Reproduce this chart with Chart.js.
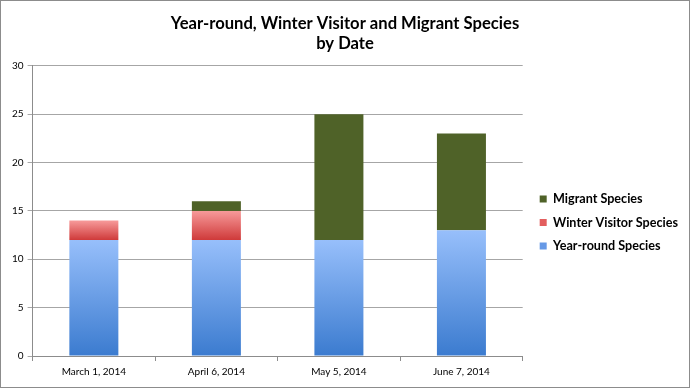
<!DOCTYPE html>
<html><head><meta charset="utf-8">
<script src="https://cdn.jsdelivr.net/npm/chart.js@4.4.1/dist/chart.umd.min.js"></script>
<style>html,body{margin:0;padding:0;background:#fff;}#wrap{width:690px;height:388px;position:relative;}</style>
</head><body><div id="wrap"><canvas id="c" width="690" height="388"></canvas></div>
<script>
const categories = ["March 1, 2014", "April 6, 2014", "May 5, 2014", "June 7, 2014"];
const yearRound = [12, 12, 12, 13];
const winterVisitor = [2, 3, 0, 0];
const migrant = [0, 1, 13, 10];
const yTicks = [0, 5, 10, 15, 20, 25, 30];
const seriesNames = ["Year-round Species", "Winter Visitor Species", "Migrant Species"];

const FONT = "Lato, 'Open Sans', sans-serif";
const series = [yearRound, winterVisitor, migrant];
const legendSwatch = ['#6699e6', '#e35e5e', '#4f6228'];

function gradFill(top, bottom) {
  return function(ctx) {
    const chart = ctx.chart;
    const ys = chart.scales && chart.scales.y;
    if (!ys || ctx.dataIndex === undefined) return top;
    let start = 0;
    for (let k = 0; k < ctx.datasetIndex; k++) start += series[k][ctx.dataIndex];
    const end = start + series[ctx.datasetIndex][ctx.dataIndex];
    const y0 = ys.getPixelForValue(end), y1 = ys.getPixelForValue(start);
    if (!isFinite(y0) || !isFinite(y1) || y0 === y1) return top;
    const g = chart.ctx.createLinearGradient(0, y0, 0, y1);
    g.addColorStop(0, top); g.addColorStop(1, bottom);
    return g;
  };
}

const borderPlugin = {
  id: 'outerBorder',
  afterLayout(chart) {
    if (chart.legend) { chart.legend.top += 54; chart.legend.left += 6; }
  },
  afterDraw(chart) {
    const c = chart.ctx;
    c.save(); c.strokeStyle = '#8c8c8c'; c.lineWidth = 1;
    c.strokeRect(0.5, 0.5, chart.width - 1, chart.height - 1);
    c.restore();
  }
};

new Chart(document.getElementById('c'), {
  type: 'bar',
  data: {
    labels: categories,
    datasets: [
      { label: seriesNames[0], data: yearRound, backgroundColor: gradFill('#97bffb', '#3b7bcf'), borderWidth: 0 },
      { label: seriesNames[1], data: winterVisitor, backgroundColor: gradFill('#f79a9a', '#cf3a3a'), borderWidth: 0 },
      { label: seriesNames[2], data: migrant, backgroundColor: '#4f6228', borderWidth: 0 }
    ]
  },
  options: {
    responsive: false,
    animation: false,
    devicePixelRatio: 1,
    layout: { padding: { left: 8, right: 8, top: 8, bottom: 5 } },
    datasets: { bar: { categoryPercentage: 1.0, barPercentage: 0.4 } },
    plugins: {
      title: {
        display: true,
        text: ["Year-round, Winter Visitor and Migrant Species", "by Date"],
        font: { family: FONT, size: 16.6, weight: 'bold' },
        color: '#000',
        padding: { top: 6, bottom: 12 },
        lineHeight: 1.38
      },
      legend: {
        position: 'right',
        reverse: true,
        labels: {
          boxWidth: 7, boxHeight: 7,
          font: { family: FONT, size: 12.6, weight: 'bold' },
          color: '#000', padding: 11,
          generateLabels(chart) {
            const items = Chart.defaults.plugins.legend.labels.generateLabels(chart);
            items.forEach(it => { it.fillStyle = legendSwatch[it.datasetIndex]; it.strokeStyle = legendSwatch[it.datasetIndex]; it.lineWidth = 0; });
            return items;
          }
        }
      },
      tooltip: { enabled: false }
    },
    scales: {
      x: {
        stacked: true,
        offset: true,
        grid: { display: true, drawOnChartArea: false, offset: true, color: '#8c8c8c', tickLength: 5 },
        border: { color: '#8c8c8c' },
        ticks: { font: { family: FONT, size: 10 }, color: '#000', padding: 5 }
      },
      y: {
        stacked: true,
        min: 0, max: 30,
        afterBuildTicks(axis) { axis.ticks = yTicks.map(v => ({ value: v })); },
        grid: { color: '#a6a6a6', tickLength: 5 },
        border: { color: '#8c8c8c' },
        ticks: { font: { family: FONT, size: 10 }, color: '#000', padding: 4 }
      }
    }
  },
  plugins: [borderPlugin]
});
</script></body></html>
